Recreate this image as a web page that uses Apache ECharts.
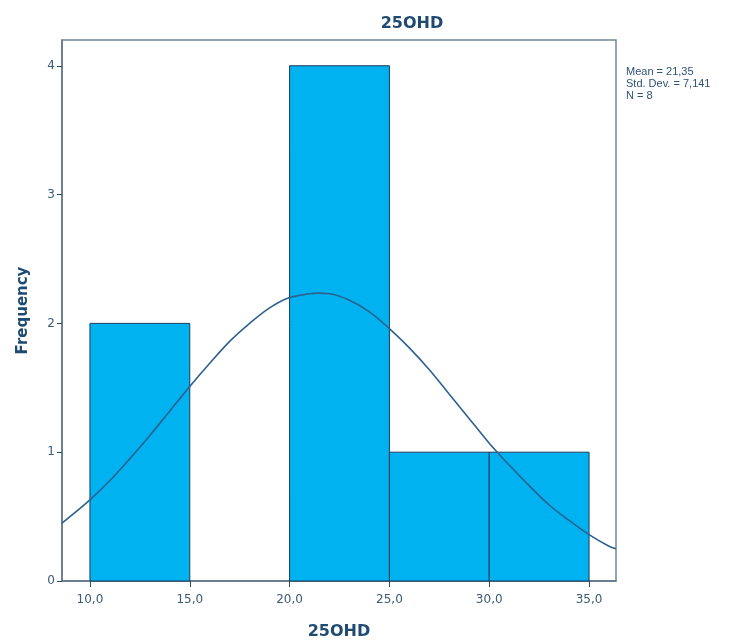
<!DOCTYPE html>
<html><head><meta charset="utf-8">
<script src="https://cdn.jsdelivr.net/npm/echarts@6/dist/echarts.min.js"></script>
<style>html,body{margin:0;padding:0;background:#fff}#c{width:739px;height:644px}</style>
</head><body><div id="c"></div>
<script>
// Histogram bins
const binStart = [10, 15, 20, 25, 30];
const binEnd   = [15, 20, 25, 30, 35];
const counts   = [2, 0, 4, 1, 1];
// Normal curve (x, frequency)
const curveX = [8.6, 9, 10, 11, 12, 13, 14, 15, 16, 17, 18, 19, 20, 21, 21.35, 22, 23, 24, 25, 26, 27, 28, 29, 30, 31, 32, 33, 34, 35, 36, 36.35];
const curveY = [0.45, 0.50, 0.63, 0.78, 0.95, 1.13, 1.32, 1.51, 1.69, 1.86, 2.00, 2.12, 2.20, 2.23, 2.235, 2.23, 2.18, 2.09, 1.96, 1.81, 1.64, 1.45, 1.26, 1.07, 0.90, 0.74, 0.59, 0.47, 0.36, 0.27, 0.25];
const xTicks = [10, 15, 20, 25, 30, 35];
const statLines = ['Mean = 21,35', 'Std. Dev. = 7,141', 'N = 8'];

const txt = '#3d5a78';
const boldFont = 'DejaVu Sans, Liberation Sans, Arial';
const chart = echarts.init(document.getElementById('c'), null, {renderer: 'canvas'});
chart.setOption({
  backgroundColor: '#fff',
  animation: false,
  title: {
    text: '25OHD', left: 407, top: 11, textAlign: 'center',
    textStyle: {fontFamily: boldFont, fontSize: 16, fontWeight: 'bold', color: '#1f4b73'}
  },
  grid: {left: 62, right: 123, top: 40, bottom: 63, outerBoundsMode: 'none', containLabel: false,
    show: true, borderColor: '#6f8599', borderWidth: 1.5, backgroundColor: '#fff'},
  xAxis: {
    type: 'value', min: 8.6, max: 36.35,
    name: '25OHD', nameLocation: 'middle', nameGap: 43,
    nameTextStyle: {fontFamily: boldFont, fontSize: 16, fontWeight: 'bold', color: '#1f4b73'},
    axisLine: {show: true, lineStyle: {color: '#5f7487', width: 1.5}},
    axisTick: {show: true, customValues: xTicks, length: 6, lineStyle: {color: '#2b4a6b'}},
    axisLabel: {customValues: xTicks, margin: 13, fontFamily: 'DejaVu Sans', fontSize: 12, color: txt,
      formatter: v => v.toFixed(1).replace('.', ',')},
    splitLine: {show: false}
  },
  yAxis: {
    type: 'value', min: 0, max: 4.2, interval: 1,
    name: 'Frequency', nameLocation: 'middle', nameGap: 31, nameRotate: 90,
    nameTextStyle: {fontFamily: boldFont, fontSize: 15, fontWeight: 'bold', color: '#1f4b73'},
    axisLine: {show: true, lineStyle: {color: '#5f7487', width: 1.5}},
    axisTick: {show: true, length: 5, lineStyle: {color: '#2b4a6b'}},
    axisLabel: {margin: 7, fontFamily: 'DejaVu Sans', fontSize: 12, color: txt, showMaxLabel: false,
      formatter: v => (Number.isInteger(v) ? String(v) : '')},
    splitLine: {show: false}
  },
  graphic: [{
    type: 'text', left: 626, top: 66,
    style: {text: statLines.join('\n'), fontFamily: 'Liberation Sans, Arial', fontSize: 11, lineHeight: 12, fill: '#2f5275'}
  }],
  series: [
    {
      type: 'custom',
      data: counts.map((c, i) => [binStart[i], binEnd[i], c]),
      renderItem: function (params, api) {
        const p0 = api.coord([api.value(0), api.value(2)]);
        const p1 = api.coord([api.value(1), 0]);
        if (api.value(2) === 0) return null;
        return {
          type: 'rect',
          shape: {x: p0[0], y: p0[1], width: p1[0] - p0[0], height: p1[1] - p0[1]},
          style: {fill: '#00b2ef', stroke: '#1c3b5c', lineWidth: 1}
        };
      },
      encode: {x: [0, 1], y: 2},
      z: 2
    },
    {
      type: 'line', smooth: 0.35, showSymbol: false, symbol: 'none',
      data: curveX.map((x, i) => [x, curveY[i]]),
      lineStyle: {color: '#2d618f', width: 1.6},
      z: 3
    }
  ]
});
</script></body></html>
